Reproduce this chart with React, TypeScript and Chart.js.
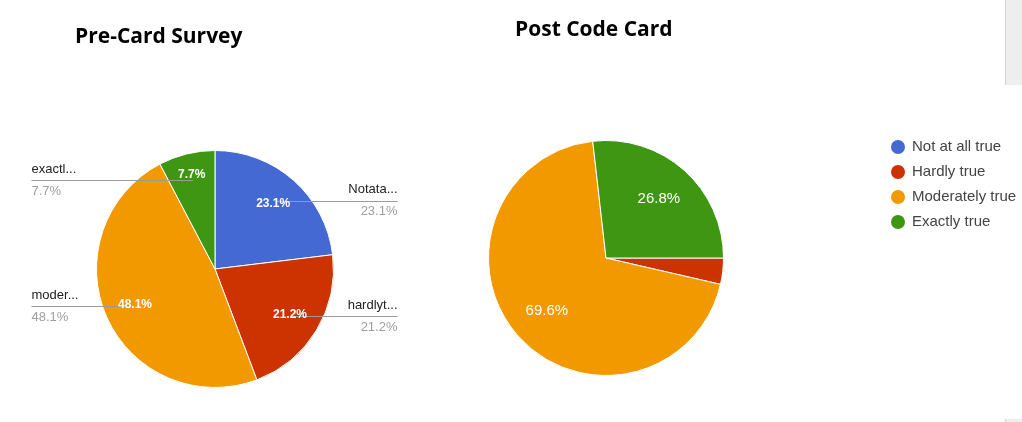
import React, { useEffect, useRef } from "react";
import { Chart, registerables } from "chart.js";

Chart.register(...registerables);

const categories = ["Not at all true", "Hardly true", "Moderately true", "Exactly true"];
const preShortLabels = ["Notata...", "hardlyt...", "moder...", "exactl..."];
const prePercents = [23.1, 21.2, 48.1, 7.7];
const postPercents = [0, 3.6, 69.6, 26.8];
const sliceColors = ["#4569d3", "#cc3300", "#f29900", "#3e9613"];
const chartTitles = ["Pre-Card Survey", "Post Code Card"];

const FONT = '"Liberation Sans", Arial, sans-serif';
const TITLE_FONT = '"Open Sans", sans-serif';

function arcGeom(arc: any) {
  const p = arc.getProps(["x", "y", "startAngle", "endAngle", "outerRadius"], true);
  const mid = (p.startAngle + p.endAngle) / 2;
  return { ...p, mid };
}

const preLabelPlugin = {
  id: "preLabels",
  afterDatasetsDraw(chart: any) {
    const ctx = chart.ctx;
    const meta = chart.getDatasetMeta(0);
    const values: number[] = chart.data.datasets[0].data;
    ctx.save();
    // leader lines and outside labels
    meta.data.forEach((arc: any, i: number) => {
      const g = arcGeom(arc);
      const ar = g.outerRadius * 0.77;
      const ax = g.x + Math.cos(g.mid) * ar;
      const ay = g.y + Math.sin(g.mid) * ar;
      const right = ax > g.x;
      const edge = right ? g.x + g.outerRadius + 64 : g.x - g.outerRadius - 65;
      ctx.strokeStyle = "#9a9a9a";
      ctx.lineWidth = 1;
      ctx.beginPath();
      ctx.moveTo(ax, Math.round(ay) + 0.5);
      ctx.lineTo(edge, Math.round(ay) + 0.5);
      ctx.stroke();
      ctx.font = `13px ${FONT}`;
      ctx.textAlign = right ? "right" : "left";
      ctx.textBaseline = "middle";
      ctx.fillStyle = "#222";
      ctx.fillText(preShortLabels[i], edge, ay - 11);
      ctx.fillStyle = "#9e9e9e";
      ctx.fillText(values[i].toFixed(1) + "%", edge, ay + 11);
    });
    // inner labels
    meta.data.forEach((arc: any, i: number) => {
      const g = arcGeom(arc);
      const f = values[i] < 10 ? 0.82 : 0.74;
      const tx = g.x + Math.cos(g.mid) * g.outerRadius * f;
      const ty = g.y + Math.sin(g.mid) * g.outerRadius * f;
      ctx.font = `bold 12px ${FONT}`;
      ctx.textAlign = "center";
      ctx.textBaseline = "middle";
      ctx.fillStyle = "#ffffff";
      ctx.fillText(values[i].toFixed(1) + "%", tx, ty);
    });
    ctx.font = `bold 21px ${TITLE_FONT}`;
    ctx.textAlign = "left";
    ctx.textBaseline = "alphabetic";
    ctx.fillStyle = "#000";
    ctx.fillText(chartTitles[0], 75, 43);
    ctx.restore();
  },
};

const postLabelPlugin = {
  id: "postLabels",
  afterDatasetsDraw(chart: any) {
    const ctx = chart.ctx;
    const meta = chart.getDatasetMeta(0);
    const values: number[] = chart.data.datasets[0].data;
    ctx.save();
    meta.data.forEach((arc: any, i: number) => {
      if (values[i] < 5) return;
      const g = arcGeom(arc);
      const tx = g.x + Math.cos(g.mid) * g.outerRadius * 0.675;
      const ty = g.y + Math.sin(g.mid) * g.outerRadius * 0.675;
      ctx.font = `15px ${FONT}`;
      ctx.textAlign = "center";
      ctx.textBaseline = "middle";
      ctx.fillStyle = "#ffffff";
      ctx.fillText(values[i].toFixed(1) + "%", tx, ty);
    });
    // legend
    categories.forEach((name, i) => {
      const cy = 147 + i * 25;
      ctx.fillStyle = sliceColors[i];
      ctx.beginPath();
      ctx.arc(898 - 440, cy, 7, 0, Math.PI * 2);
      ctx.fill();
      ctx.font = `15px ${FONT}`;
      ctx.textAlign = "left";
      ctx.textBaseline = "middle";
      ctx.fillStyle = "#444";
      ctx.fillText(name, 912 - 440, cy);
    });
    ctx.font = `bold 21px ${TITLE_FONT}`;
    ctx.textAlign = "left";
    ctx.textBaseline = "alphabetic";
    ctx.fillStyle = "#000";
    ctx.fillText(chartTitles[1], 515 - 440, 36);
    ctx.restore();
  },
};

function makePie(canvas: HTMLCanvasElement, values: number[], rotation: number, padding: any, plugin: any) {
  return new Chart(canvas, {
    type: "pie",
    data: {
      labels: categories,
      datasets: [
        {
          data: values,
          backgroundColor: sliceColors,
          borderColor: "#ffffff",
          borderWidth: 1,
          hoverOffset: 0,
        },
      ],
    },
    options: {
      animation: false,
      responsive: false,
      devicePixelRatio: 1,
      events: [],
      rotation,
      layout: { padding },
      plugins: {
        legend: { display: false },
        tooltip: { enabled: false },
        title: { display: false },
      },
    },
    plugins: [plugin],
  } as any);
}

export default function App() {
  const preRef = useRef<HTMLCanvasElement>(null);
  const postRef = useRef<HTMLCanvasElement>(null);

  useEffect(() => {
    const c1 = makePie(preRef.current!, prePercents, 0, { left: 96, right: 106, top: 150, bottom: 34 }, preLabelPlugin);
    const c2 = makePie(postRef.current!, postPercents, 90, { left: 48, right: 298, top: 140, bottom: 46 }, postLabelPlugin);
    return () => {
      c1.destroy();
      c2.destroy();
    };
  }, []);

  return (
    <div style={{ position: "fixed", left: 0, top: 0, width: 1022, height: 422, background: "#fff", overflow: "hidden" }}>
      <canvas ref={preRef} width={440} height={422} style={{ position: "absolute", left: 0, top: 0, width: 440, height: 422 }} />
      <canvas ref={postRef} width={582} height={422} style={{ position: "absolute", left: 440, top: 0, width: 582, height: 422 }} />
      <div style={{ position: "absolute", left: 1005, top: 0, width: 17, height: 85, background: "#eeeeee", borderLeft: "1px solid #d4d4d4", boxSizing: "border-box" }} />
      <div style={{ position: "absolute", left: 1005, top: 419, width: 17, height: 3, background: "#eeeeee", borderLeft: "1px solid #d4d4d4", boxSizing: "border-box" }} />
    </div>
  );
}
